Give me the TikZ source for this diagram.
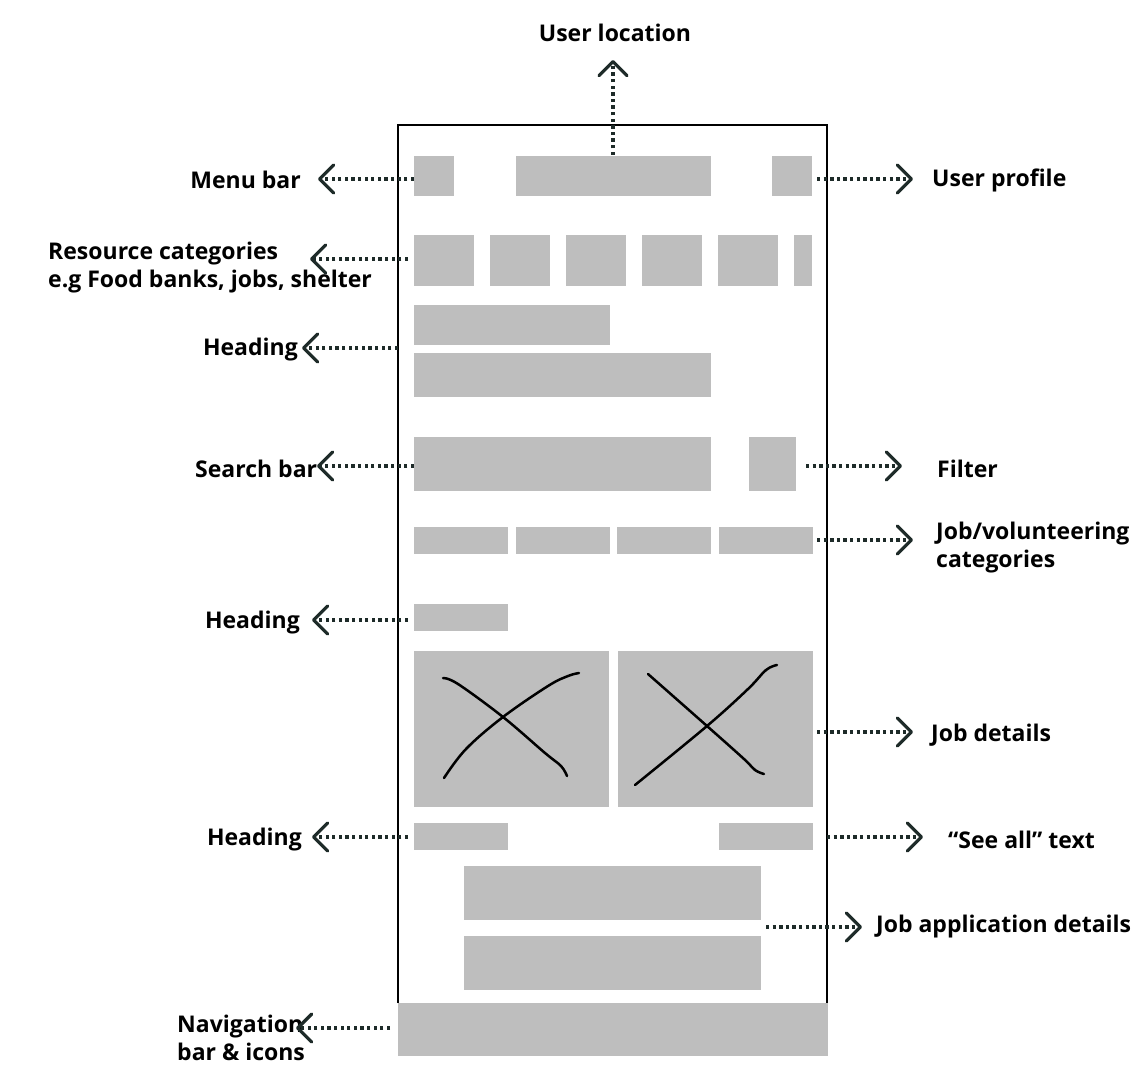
\documentclass[tikz,border=0pt]{standalone}
\usepackage{fontspec}
\setmainfont{Open Sans}
\usetikzlibrary{arrows.meta,fit}
\definecolor{boxgray}{HTML}{BEBEBE}
\definecolor{arrowc}{HTML}{1E2B29}
\tikzset{
  gbox/.style={fill=boxgray,draw=none,inner sep=0pt},
  lbl/.style={font=\fontsize{23}{28}\selectfont\bfseries,inner sep=0pt,text=black,align=left},
  callout/.style={draw=arrowc,line width=3.3pt,dash pattern=on 3.3pt off 3.3pt,
    -{Straight Barb[length=14pt,width=28pt,line width=3.3pt,line cap=round,line join=round]}},
  xline/.style={line width=2.5pt,line cap=round},
}
\begin{document}
\begin{tikzpicture}[x=1pt,y=-1pt]
\useasboundingbox (0,0) rectangle (1145,1086);
% phone frame
\draw[line width=1.1pt] (398,1003) -- (398,125) -- (827,125) -- (827,1003);
% boxes
\node[gbox,fit={(414,156) (454,196)}] (menu) {};
\node[gbox,fit={(516,156) (711,196)}] (loc) {};
\node[gbox,fit={(772,156) (812,196)}] (prof) {};
\node[gbox,fit={(414,235) (474,286)}] (c1) {};
\node[gbox,fit={(490,235) (550,286)}] (c2) {};
\node[gbox,fit={(566,235) (626,286)}] (c3) {};
\node[gbox,fit={(642,235) (702,286)}] (c4) {};
\node[gbox,fit={(718,235) (778,286)}] (c5) {};
\node[gbox,fit={(794,235) (812,286)}] (c6) {};
\node[gbox,fit={(414,305) (610,345)}] (h1) {};
\node[gbox,fit={(414,353) (711,397)}] (sub) {};
\node[gbox,fit={(414,437) (711,491)}] (search) {};
\node[gbox,fit={(749,437) (796,491)}] (filter) {};
\node[gbox,fit={(414,527) (508,554)}] (j1) {};
\node[gbox,fit={(516,527) (610,554)}] (j2) {};
\node[gbox,fit={(617,527) (711,554)}] (j3) {};
\node[gbox,fit={(719,527) (813,554)}] (j4) {};
\node[gbox,fit={(414,604) (508,631)}] (h2) {};
\node[gbox,fit={(414,651) (609,807)}] (card1) {};
\node[gbox,fit={(618,651) (813,807)}] (card2) {};
\node[gbox,fit={(414,823) (508,850)}] (h3) {};
\node[gbox,fit={(719,823) (813,850)}] (seeall) {};
\node[gbox,fit={(464,866) (761,920)}] (app1) {};
\node[gbox,fit={(464,936) (761,990)}] (app2) {};
\node[gbox,fit={(398,1003) (828,1056)}] (nav) {};
% X sketches
\draw[xline] plot[smooth,tension=0.6] coordinates {(443,678) (458,684) (503,717) (545,753) (561,766) (567,776)};
\draw[xline] plot[smooth,tension=0.6] coordinates {(444,778) (466,749) (503,717) (548,686) (568,676) (579,673)};
\draw[xline] plot[smooth,tension=0.6] coordinates {(648,674) (707,726) (744,759) (755,770) (764,774)};
\draw[xline] plot[smooth,tension=0.6] coordinates {(635,785) (707,726) (748,689) (766,670) (777,665)};
% labels
\node[lbl,anchor=center] (tloc) at (615,33) {User location};
\node[lbl,anchor=east] (tmenu) at (301,180) {Menu bar};
\node[lbl,anchor=west] (tprof) at (932,180) {User profile};
\node[lbl,anchor=west] (tres) at (48,268) {Resource categories\\e.g Food banks, jobs, shelter};
\node[lbl,anchor=east] (th1) at (298,350) {Heading};
\node[lbl,anchor=west] (tsearch) at (195,469) {Search bar};
\node[lbl,anchor=west] (tfilter) at (937,469) {Filter};
\node[lbl,anchor=west] (tjob) at (936,548) {Job/volunteering\\categories};
\node[lbl,anchor=east] (th2) at (300,623) {Heading};
\node[lbl,anchor=west] (tdet) at (931,735) {Job details};
\node[lbl,anchor=east] (th3) at (302,840) {Heading};
\node[lbl,anchor=west] (tsee) at (948,840) {“See all” text};
\node[lbl,anchor=west] (tapp) at (876,927) {Job application details};
\node[lbl,anchor=west] (tnav) at (177,1038) {Navigation\\bar \& icons};
% arrow endpoints
\coordinate (sloc) at (613,155);  \coordinate (eloc) at (613,60);
\coordinate (smenu) at (414,179); \coordinate (emenu) at (318,179);
\coordinate (sprof) at (817,179); \coordinate (eprof) at (913,179);
\coordinate (sres) at (408,259);  \coordinate (eres) at (310,259);
\coordinate (sh1) at (398,348);   \coordinate (eh1) at (302,348);
\coordinate (ssearch) at (414,466); \coordinate (esearch) at (317,466);
\coordinate (sfilter) at (806,466); \coordinate (efilter) at (902,466);
\coordinate (sjob) at (817,540);  \coordinate (ejob) at (913,540);
\coordinate (sh2) at (408,620);   \coordinate (eh2) at (312,620);
\coordinate (sdet) at (817,732);  \coordinate (edet) at (913,732);
\coordinate (sh3) at (408,837);   \coordinate (eh3) at (312,837);
\coordinate (ssee) at (827,837);  \coordinate (esee) at (923,837);
\coordinate (sapp) at (766,927);  \coordinate (eapp) at (862,927);
\coordinate (snav) at (390,1028); \coordinate (enav) at (296,1028);
\foreach \n in {loc,menu,prof,res,h1,search,filter,job,h2,det,h3,see,app,nav}
  \draw[callout] (s\n) -- (e\n);
\end{tikzpicture}
\end{document}
